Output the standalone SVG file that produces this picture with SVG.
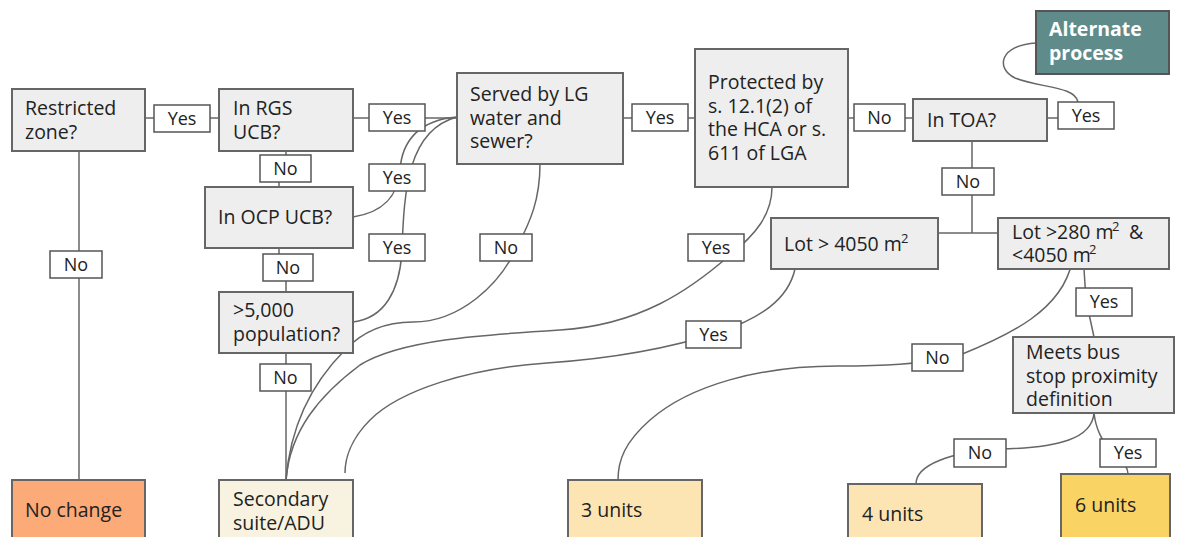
<svg xmlns="http://www.w3.org/2000/svg" width="1182" height="537" viewBox="0 0 1182 537">
<style>
.n{fill:#eeeeee;stroke:#666;stroke-width:2}
.t{font-family:"Open Sans","Noto Sans",sans-serif;font-size:19.5px;fill:#222}
.s{font-family:"Open Sans","Noto Sans",sans-serif;font-size:13px;fill:#222}
.w{font-family:"Open Sans","Noto Sans",sans-serif;font-size:19.5px;font-weight:bold;fill:#fff}
.c{fill:none;stroke:#666;stroke-width:1.5}
.lb{fill:#fff;stroke:#555;stroke-width:1.5}
.lt{font-family:"Open Sans","Noto Sans",sans-serif;font-size:18px;fill:#222;text-anchor:middle}
</style>
<rect width="1182" height="537" fill="#fff"/>
<g id="connectors">
<path class="c" d="M145,118 H219"/>
<path class="c" d="M353,118 H457"/>
<path class="c" d="M286,151 L286,168 L279,168 L279,187"/>
<path class="c" d="M279,248 L279,268 L286,268 L286,292"/>
<path class="c" d="M79,151 V480"/>
<path class="c" d="M286,353 V480"/>
<path class="c" d="M353,217 C385,212 398,195 400,170 C402,140 420,120 457,117"/>
<path class="c" d="M353,322 C385,318 400,290 402,250 C404,190 408,130 457,117"/>
<path class="c" d="M540,164 C540,200 530,222 518,245 C500,285 460,322 413,322 C385,322 362,332 345,350 C310,385 290,430 286,480"/>
<path class="c" d="M772,187 C772,215 755,235 730,255 C690,290 640,325 560,330 C480,335 400,340 360,365 C320,395 290,430 286,480"/>
<path class="c" d="M795,269 C788,300 760,318 720,332 C680,345 620,358 547,363 C470,368 400,390 370,420 C350,440 345,460 345,473"/>
<path class="c" d="M623,118 H695"/>
<path class="c" d="M848,118 H913"/>
<path class="c" d="M1047,118 H1060"/>
<path class="c" d="M1078,102 C1075,86 1040,88 1015,78 C995,68 1000,45 1036,43"/>
<path class="c" d="M972,141 V233"/>
<path class="c" d="M938,233 H998"/>
<path class="c" d="M1072,262 C1062,310 1010,335 960,355 C920,365 880,366 838,366 C760,366 690,385 650,420 C625,442 618,460 618,480"/>
<path class="c" d="M1084,269 L1086,300 L1094,337"/>
<path class="c" d="M1094,413 C1092,438 1060,448 1000,449 C950,452 916,465 916,484"/>
<path class="c" d="M1094,413 C1096,430 1102,440 1110,450 C1120,460 1128,465 1128,474"/>
</g>
<g id="restricted"><rect class="n" x="12" y="89" width="133" height="62"/><text class="t" x="25" y="115">Restricted</text><text class="t" x="25" y="138.5">zone?</text></g>
<g id="rgs"><rect class="n" x="219" y="89" width="134" height="62"/><text class="t" x="233" y="115">In RGS</text><text class="t" x="233" y="138.5">UCB?</text></g>
<g id="ocp"><rect class="n" x="205" y="187" width="148" height="61"/><text class="t" x="218" y="224">In OCP UCB?</text></g>
<g id="pop"><rect class="n" x="219" y="292" width="134" height="61"/><text class="t" x="233" y="317">&gt;5,000</text><text class="t" x="233" y="340.5">population?</text></g>
<g id="served"><rect class="n" x="457" y="73" width="166" height="91"/><text class="t" x="470" y="101">Served by LG</text><text class="t" x="470" y="124.5">water and</text><text class="t" x="470" y="148">sewer?</text></g>
<g id="protected"><rect class="n" x="695" y="49" width="153" height="138"/><text class="t" x="708" y="89">Protected by</text><text class="t" x="708" y="112.5">s. 12.1(2) of</text><text class="t" x="708" y="136">the HCA or s.</text><text class="t" x="708" y="159.5">611 of LGA</text></g>
<g id="toa"><rect class="n" x="913" y="99" width="134" height="42"/><text class="t" x="927" y="127">In TOA?</text></g>
<g id="alternate"><rect x="1036" y="11" width="133" height="63" fill="#5f8b8a" stroke="#555" stroke-width="2"/><text class="w" x="1049" y="36">Alternate</text><text class="w" x="1049" y="59.5">process</text></g>
<g id="lot4050"><rect class="n" x="771" y="218" width="167" height="51"/><text class="t" x="784" y="251">Lot &gt; 4050 m</text><text class="s" x="901" y="243">2</text></g>
<g id="lot280"><rect class="n" x="998" y="218" width="171" height="51"/><text class="t" x="1012" y="239">Lot &gt;280 m</text><text class="s" x="1112" y="231">2</text><text class="t" x="1129" y="239">&amp;</text><text class="t" x="1012" y="262">&lt;4050 m</text><text class="s" x="1089" y="254">2</text></g>
<g id="bus"><rect class="n" x="1013" y="337" width="161" height="76"/><text class="t" x="1026" y="359">Meets bus</text><text class="t" x="1026" y="382.5">stop proximity</text><text class="t" x="1026" y="406">definition</text></g>
<g id="nochange"><rect x="12" y="480" width="133" height="70" fill="#fbaa78" stroke="#666" stroke-width="2"/><text class="t" x="25" y="517">No change</text></g>
<g id="secondary"><rect x="219" y="480" width="134" height="70" fill="#f8f3e0" stroke="#666" stroke-width="2"/><text class="t" x="233" y="506">Secondary</text><text class="t" x="233" y="529.5">suite/ADU</text></g>
<g id="units3"><rect x="568" y="480" width="134" height="70" fill="#fce5b3" stroke="#666" stroke-width="2"/><text class="t" x="581" y="517">3 units</text></g>
<g id="units4"><rect x="848" y="484" width="134" height="70" fill="#fce5b3" stroke="#666" stroke-width="2"/><text class="t" x="862" y="521">4 units</text></g>
<g id="units6"><rect x="1061" y="474" width="109" height="70" fill="#f9d465" stroke="#666" stroke-width="2"/><text class="t" x="1075" y="512">6 units</text></g>
<g id="edge-labels">
<rect class="lb" x="154" y="105" width="56" height="27"/><text class="lt" x="182" y="124.5">Yes</text>
<rect class="lb" x="369" y="104" width="56" height="27"/><text class="lt" x="397" y="123.5">Yes</text>
<rect class="lb" x="260" y="155" width="51" height="27"/><text class="lt" x="285.5" y="174.5">No</text>
<rect class="lb" x="369" y="164" width="56" height="27"/><text class="lt" x="397" y="183.5">Yes</text>
<rect class="lb" x="263" y="254" width="50" height="27"/><text class="lt" x="288" y="273.5">No</text>
<rect class="lb" x="369" y="234" width="56" height="27"/><text class="lt" x="397" y="253.5">Yes</text>
<rect class="lb" x="50" y="251" width="52" height="27"/><text class="lt" x="76" y="270.5">No</text>
<rect class="lb" x="260" y="364" width="51" height="27"/><text class="lt" x="285.5" y="383.5">No</text>
<rect class="lb" x="480" y="234" width="52" height="27"/><text class="lt" x="506" y="253.5">No</text>
<rect class="lb" x="632" y="104" width="56" height="27"/><text class="lt" x="660" y="123.5">Yes</text>
<rect class="lb" x="854" y="104" width="51" height="27"/><text class="lt" x="879.5" y="123.5">No</text>
<rect class="lb" x="1058" y="102" width="56" height="27"/><text class="lt" x="1086" y="121.5">Yes</text>
<rect class="lb" x="942" y="168" width="52" height="27"/><text class="lt" x="968" y="187.5">No</text>
<rect class="lb" x="688" y="234" width="56" height="27"/><text class="lt" x="716" y="253.5">Yes</text>
<rect class="lb" x="686" y="321" width="55" height="27"/><text class="lt" x="713.5" y="340.5">Yes</text>
<rect class="lb" x="912" y="344" width="51" height="27"/><text class="lt" x="937.5" y="363.5">No</text>
<rect class="lb" x="1076" y="288" width="56" height="28"/><text class="lt" x="1104" y="308">Yes</text>
<rect class="lb" x="954" y="439" width="52" height="28"/><text class="lt" x="980" y="459">No</text>
<rect class="lb" x="1100" y="439" width="56" height="28"/><text class="lt" x="1128" y="459">Yes</text>
</g>
</svg>
